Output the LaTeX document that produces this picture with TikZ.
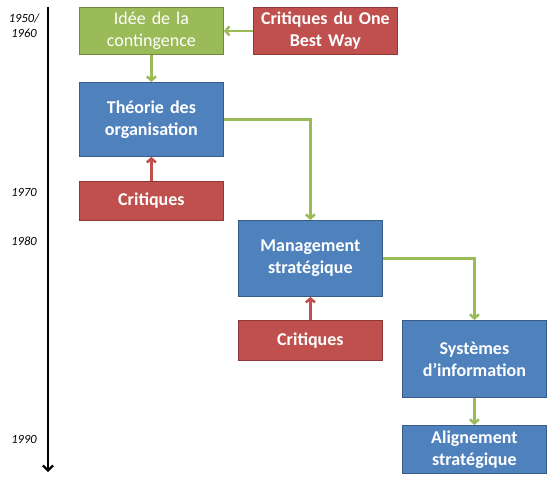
\documentclass[tikz,border=0pt]{standalone}
\usepackage{fontspec}
\setmainfont{Carlito}
\usetikzlibrary{arrows.meta}
\definecolor{gfill}{HTML}{9BBB59}
\definecolor{gdraw}{HTML}{71893F}
\definecolor{rfill}{HTML}{C0504D}
\definecolor{rdraw}{HTML}{8C3836}
\definecolor{bfill}{HTML}{4F81BD}
\definecolor{bdraw}{HTML}{385D8A}
\tikzset{
  box/.style={anchor=north west, minimum width=144pt, text width=140pt, align=center, inner sep=0pt, line width=0.8pt, text=white, font=\fontsize{18}{22}\selectfont},
  greenbox/.style={box, fill=gfill, draw=gdraw},
  redbox/.style={box, fill=rfill, draw=rdraw, font=\fontsize{18}{22}\selectfont\bfseries},
  bluebox/.style={box, fill=bfill, draw=bdraw, font=\fontsize{18}{22}\selectfont\bfseries},
  garrow/.style={draw=gfill, line width=2.5pt, -{Straight Barb[length=4pt,width=9pt]}},
  rarrow/.style={draw=rfill, line width=2.5pt, -{Straight Barb[length=4pt,width=9pt]}},
  year/.style={font=\fontsize{12.5}{15}\selectfont\itshape, align=center},
}
\begin{document}
\begin{tikzpicture}[x=1pt,y=-1pt]
\useasboundingbox (0,0) rectangle (551,487);
% timeline
\coordinate (tA) at (48,7);
\coordinate (tB) at (48,472);
\draw[line width=2.2pt, -{Straight Barb[length=5pt,width=10pt]}] (tA) -- (tB);
\node[year] (y1950) at (24,26) {1950/\\1960};
\node[year] (y1970) at (24,192) {1970};
\node[year] (y1980) at (24,241) {1980};
\node[year] (y1990) at (24,439) {1990};
% boxes
\node[greenbox, minimum height=47pt] (idee) at (79,7) {Idée de la\\contingence};
\node[redbox, minimum height=47pt] (obw) at (253,7) {Critiques du One\\Best Way};
\node[bluebox, minimum height=74pt] (theo) at (79,82) {Théorie des\\organisation};
\node[redbox, minimum height=39pt] (crit1) at (79,181) {Critiques};
\node[bluebox, minimum height=76pt] (mgmt) at (238,220) {Management\\stratégique};
\node[redbox, minimum height=40pt] (crit2) at (238,320) {Critiques};
\node[bluebox, minimum height=77pt] (sys) at (402,320) {Systèmes\\d’information};
\node[bluebox, minimum height=48pt] (align) at (402,425) {Alignement\\stratégique};
% connectors
\draw[garrow] (obw.west) -- (idee.east);
\draw[garrow] (idee.south) -- (theo.north);
\draw[rarrow] (crit1.north) -- (theo.south);
\draw[garrow] (theo.east) -| (mgmt.north);
\draw[rarrow] (crit2.north) -- (mgmt.south);
\draw[garrow] (mgmt.east) -| (sys.north);
\draw[garrow] (sys.south) -- (align.north);
\end{tikzpicture}
\end{document}
